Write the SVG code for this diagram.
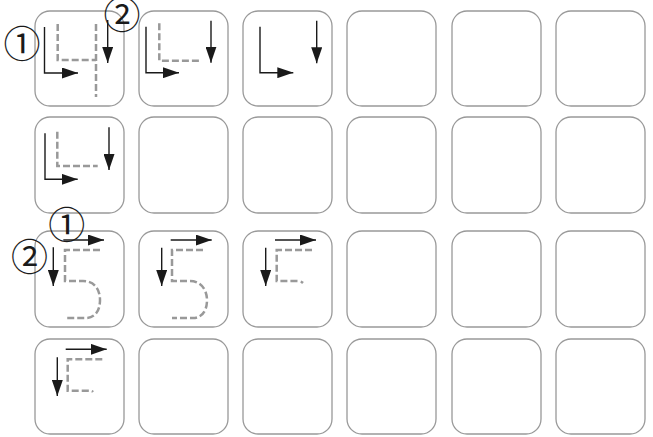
<svg xmlns="http://www.w3.org/2000/svg" width="653" height="437" viewBox="0 0 653 437">
<defs>
<marker id="ah" markerUnits="userSpaceOnUse" markerWidth="16" markerHeight="11" refX="16" refY="5.5" orient="auto" viewBox="0 0 16 11">
<path d="M0,0 L16,5.5 L0,11 Z" fill="#1a1a1a"/>
</marker>
<style>
.cell{fill:#fff;stroke:#999;stroke-width:1.3}
.arr{fill:none;stroke:#1a1a1a;stroke-width:1.4;marker-end:url(#ah)}
.dash{fill:none;stroke:#999;stroke-width:2.5;stroke-dasharray:7 3}
.num{font-family:"Noto Sans CJK JP","DejaVu Sans",sans-serif;font-size:37px;fill:#1a1a1a;text-anchor:middle}
</style>
</defs>
<rect width="653" height="437" fill="#fff"/>
<g id="cells">
<g id="r1c1"><rect class="cell" x="35" y="11" width="89" height="95" rx="15"/></g>
<g id="r1c2"><rect class="cell" x="139" y="11" width="89" height="95" rx="15"/></g>
<g id="r1c3"><rect class="cell" x="243" y="11" width="89" height="95" rx="15"/></g>
<g id="r1c4"><rect class="cell" x="347" y="11" width="89" height="95" rx="15"/></g>
<g id="r1c5"><rect class="cell" x="452" y="11" width="89" height="95" rx="15"/></g>
<g id="r1c6"><rect class="cell" x="556" y="11" width="89" height="95" rx="15"/></g>
<g id="r2c1"><rect class="cell" x="35" y="117" width="89" height="96" rx="15"/></g>
<g id="r2c2"><rect class="cell" x="139" y="117" width="89" height="96" rx="15"/></g>
<g id="r2c3"><rect class="cell" x="243" y="117" width="89" height="96" rx="15"/></g>
<g id="r2c4"><rect class="cell" x="347" y="117" width="89" height="96" rx="15"/></g>
<g id="r2c5"><rect class="cell" x="452" y="117" width="89" height="96" rx="15"/></g>
<g id="r2c6"><rect class="cell" x="556" y="117" width="89" height="96" rx="15"/></g>
<g id="r3c1"><rect class="cell" x="35" y="231" width="89" height="96" rx="15"/></g>
<g id="r3c2"><rect class="cell" x="139" y="231" width="89" height="96" rx="15"/></g>
<g id="r3c3"><rect class="cell" x="243" y="231" width="89" height="96" rx="15"/></g>
<g id="r3c4"><rect class="cell" x="347" y="231" width="89" height="96" rx="15"/></g>
<g id="r3c5"><rect class="cell" x="452" y="231" width="89" height="96" rx="15"/></g>
<g id="r3c6"><rect class="cell" x="556" y="231" width="89" height="96" rx="15"/></g>
<g id="r4c1"><rect class="cell" x="35" y="339" width="89" height="95" rx="15"/></g>
<g id="r4c2"><rect class="cell" x="139" y="339" width="89" height="95" rx="15"/></g>
<g id="r4c3"><rect class="cell" x="243" y="339" width="89" height="95" rx="15"/></g>
<g id="r4c4"><rect class="cell" x="347" y="339" width="89" height="95" rx="15"/></g>
<g id="r4c5"><rect class="cell" x="452" y="339" width="89" height="95" rx="15"/></g>
<g id="r4c6"><rect class="cell" x="556" y="339" width="89" height="95" rx="15"/></g>
</g>
<g id="guides">
<path class="dash" d="M57.7,24 V60 H96"/>
<path class="dash" d="M96,24 V97"/>
<path class="arr" d="M44.5,27 V73 H78"/>
<path class="arr" d="M107.7,20 V63"/>
<path class="dash" d="M159.3,23.3 V60.7 H200"/>
<path class="arr" d="M146,26.7 V72.7 H179"/>
<path class="arr" d="M211,20.7 V62.7"/>
<path class="arr" d="M260,26.7 V72.7 H293.3"/>
<path class="arr" d="M316.7,20.7 V63.3"/>
<path class="dash" d="M57.3,131.7 V166 H97.7"/>
<path class="arr" d="M45,133.3 V179.3 H77.7"/>
<path class="arr" d="M109,127.3 V170"/>
<path class="dash" d="M100,250 H65 V281 H83 C95,281 100,290 100,300 C100,312 94,318 86,318 H65"/>
<path class="arr" d="M63.3,240 H104"/>
<path class="arr" d="M53.3,247.3 V286"/>
<path class="dash" d="M203,250 H172 V281 H190 C201,281 207,290 207,300 C207,312 201,318 193,318 H172"/>
<path class="arr" d="M170.7,240 H211.7"/>
<path class="arr" d="M161.7,247.7 V286"/>
<path class="dash" d="M312,250 H276.7 V281 H297 Q301,281 303,283"/>
<path class="arr" d="M275,240 H316"/>
<path class="arr" d="M265.7,247.7 V286"/>
<path class="dash" d="M102.3,359.3 H67.7 V390.7 H88 Q92,390.7 93,392"/>
<path class="arr" d="M65.7,349.3 H106.7"/>
<path class="arr" d="M57.3,357.3 V396"/>
</g>
<g id="labels">
<text class="num" x="22" y="57.7">①</text>
<text class="num" x="122" y="29">②</text>
<text class="num" x="66.7" y="238.7">①</text>
<text class="num" x="29.5" y="270.7">②</text>
</g>
</svg>
